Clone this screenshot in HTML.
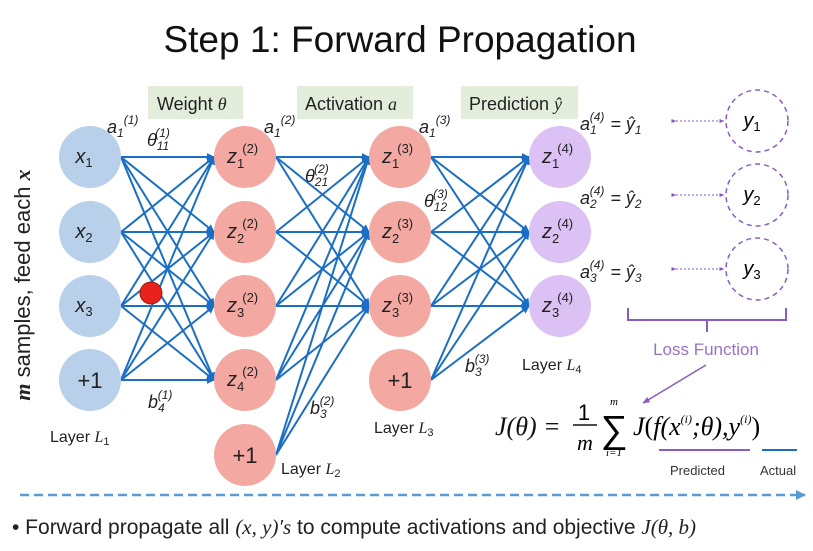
<!DOCTYPE html>
<html><head><meta charset="utf-8"><style>
body{margin:0;background:#fff}
svg{display:block}
text{font-family:"Liberation Sans",sans-serif}
.m{font-family:"Liberation Serif",serif;font-style:italic}
</style></head><body>
<svg id="s" width="813" height="551" viewBox="0 0 813 551">
<defs>
<marker id="ar" viewBox="0 0 10 10" refX="9" refY="5" markerWidth="4" markerHeight="4" orient="auto"><path d="M0,0L10,5L0,10z" fill="#1a6fc4"/></marker>
<marker id="pa" viewBox="0 0 10 10" refX="9" refY="5" markerWidth="5" markerHeight="5" orient="auto"><path d="M0,1L10,5L0,9z" fill="#8a5cc0"/></marker>
<marker id="ba" viewBox="0 0 10 10" refX="9" refY="5" markerWidth="4" markerHeight="4" orient="auto"><path d="M0,0L10,5L0,10z" fill="#5b9bd5"/></marker>
</defs>
<text x="400" y="52" font-size="37" text-anchor="middle" fill="#111">Step 1: Forward Propagation</text>
<g id="edges"></g>
<g id="nodes"></g>
<rect x="148" y="86" width="95" height="33" fill="#e2eddb"/>
<text x="157" y="110" font-size="18" fill="#222">Weight <tspan class="m">θ</tspan></text>
<rect x="297" y="86" width="116" height="33" fill="#e2eddb"/>
<text x="305" y="110" font-size="18" fill="#222">Activation <tspan class="m">a</tspan></text>
<rect x="461" y="86" width="117" height="33" fill="#e2eddb"/>
<text x="469" y="110" font-size="18" fill="#222">Prediction <tspan class="m">ŷ</tspan></text>
<g class="m" font-size="18" fill="#222">
<text x="107" y="133">a<tspan font-size="12" dy="4">1</tspan><tspan font-size="12" dy="-13">(1)</tspan></text>
<text x="147" y="146">θ<tspan font-size="12" dy="4">11</tspan><tspan font-size="12" dy="-13" dx="-14">(1)</tspan></text>
<text x="264" y="133">a<tspan font-size="12" dy="4">1</tspan><tspan font-size="12" dy="-13">(2)</tspan></text>
<text x="305" y="182">θ<tspan font-size="12" dy="4">21</tspan><tspan font-size="12" dy="-13" dx="-14">(2)</tspan></text>
<text x="419" y="133">a<tspan font-size="12" dy="4">1</tspan><tspan font-size="12" dy="-13">(3)</tspan></text>
<text x="424" y="207">θ<tspan font-size="12" dy="4">12</tspan><tspan font-size="12" dy="-13" dx="-14">(3)</tspan></text>
<text x="148" y="408">b<tspan font-size="12" dy="4">4</tspan><tspan font-size="12" dy="-13" dx="-7">(1)</tspan></text>
<text x="310" y="414">b<tspan font-size="12" dy="4">3</tspan><tspan font-size="12" dy="-13" dx="-7">(2)</tspan></text>
<text x="465" y="372">b<tspan font-size="12" dy="4">3</tspan><tspan font-size="12" dy="-13" dx="-7">(3)</tspan></text>
<text x="580" y="130">a<tspan font-size="12" dy="4">1</tspan><tspan font-size="12" dy="-13" dx="-7">(4)</tspan><tspan dy="9" dx="6">= ŷ</tspan><tspan font-size="12" dy="4">1</tspan></text>
<text x="580" y="204">a<tspan font-size="12" dy="4">2</tspan><tspan font-size="12" dy="-13" dx="-7">(4)</tspan><tspan dy="9" dx="6">= ŷ</tspan><tspan font-size="12" dy="4">2</tspan></text>
<text x="580" y="278">a<tspan font-size="12" dy="4">3</tspan><tspan font-size="12" dy="-13" dx="-7">(4)</tspan><tspan dy="9" dx="6">= ŷ</tspan><tspan font-size="12" dy="4">3</tspan></text>
</g>
<g font-size="16" fill="#222">
<text x="50" y="442">Layer <tspan class="m">L</tspan><tspan font-size="11" dy="3">1</tspan></text>
<text x="281" y="474">Layer <tspan class="m">L</tspan><tspan font-size="11" dy="3">2</tspan></text>
<text x="374" y="433">Layer <tspan class="m">L</tspan><tspan font-size="11" dy="3">3</tspan></text>
<text x="522" y="370">Layer <tspan class="m">L</tspan><tspan font-size="11" dy="3">4</tspan></text>
</g>
<text transform="translate(30,285) rotate(-90)" font-size="22" text-anchor="middle" fill="#222"><tspan class="m" font-weight="bold">m</tspan> samples, feed each <tspan class="m" font-weight="bold">x</tspan></text>
<g id="targets"></g>
<path d="M628,308V320H707V332M707,320H786V308" fill="none" stroke="#8a5cc0" stroke-width="2"/>
<text x="706" y="355" font-size="17" fill="#9a70cc" text-anchor="middle">Loss Function</text>
<line x1="706" y1="365" x2="643" y2="403" stroke="#8a5cc0" stroke-width="1.5" marker-end="url(#pa)"/>
<text x="495" y="435" class="m" font-size="26" fill="#111">J(θ) =</text>
<text x="584" y="420" font-family="Liberation Serif" font-size="22" text-anchor="middle">1</text>
<line x1="573" y1="425" x2="597" y2="425" stroke="#111" stroke-width="1.5"/>
<text x="585" y="450" class="m" font-size="22" text-anchor="middle">m</text>
<text x="614" y="442" font-family="Liberation Serif" font-size="38" text-anchor="middle">∑</text>
<text x="614" y="405" class="m" font-size="11" text-anchor="middle">m</text>
<text x="614" y="456" class="m" font-size="11" text-anchor="middle">i=1</text>
<text x="633" y="435" class="m" font-size="26">J<tspan font-style="normal">(</tspan>f(x<tspan font-size="12" dy="-12">(i)</tspan><tspan dy="12">;θ),y</tspan><tspan font-size="12" dy="-12">(i)</tspan><tspan dy="12" font-style="normal">)</tspan></text>
<line x1="659" y1="450" x2="750" y2="450" stroke="#8a5cc0" stroke-width="2"/>
<line x1="762" y1="450" x2="797" y2="450" stroke="#1a6fc4" stroke-width="2"/>
<text x="670" y="475" font-size="13" fill="#333">Predicted</text>
<text x="760" y="475" font-size="13" fill="#333">Actual</text>
<line x1="20" y1="495" x2="805" y2="495" stroke="#5b9bd5" stroke-width="2.5" stroke-dasharray="9,5" marker-end="url(#ba)"/>
<text x="12" y="534" font-size="21" fill="#222">• Forward propagate all <tspan class="m">(x, y)′s</tspan> to compute activations and objective <tspan class="m">J(θ, b)</tspan></text>
<circle cx="151" cy="293" r="11" fill="#e8231c" stroke="#9a1a10" stroke-width="1"/>
</svg>
<script>
const layerX=[90,245,400,560];
const layerY=[[157,232,306,380],[157,232,306,380,455],[157,232,306,380],[157,232,306]];
const biasLast=[true,true,true,false];
const layerFill=["#b9d0ea","#f4a8a2","#f4a8a2","#dcc1f5"];
const layerVar=["x","z","z","z"];
const layerSup=["","(2)","(3)","(4)"];
const targetY=[121,195,269];
const targetLabels=["1","2","3"];
const R=31,NS="http://www.w3.org/2000/svg";
const E=document.getElementById('edges'),N=document.getElementById('nodes'),T=document.getElementById('targets');
function mk(t,a,p){const e=document.createElementNS(NS,t);for(const k in a)e.setAttribute(k,a[k]);p.appendChild(e);return e;}
for(let l=0;l<3;l++){
  const tgt=layerY[l+1].length-(biasLast[l+1]?1:0);
  layerY[l].forEach(y1=>{for(let j=0;j<tgt;j++){
    const e=mk('line',{x1:layerX[l]+R,y1:y1,x2:layerX[l+1]-R,y2:layerY[l+1][j],stroke:'#1a6fc4','stroke-width':2,'marker-end':'url(#ar)'},E);
    
    
  }});
}
layerY.forEach((ys,l)=>ys.forEach((y,i)=>{
  const c=mk('circle',{cx:layerX[l],cy:y,r:R,fill:layerFill[l]},N);
  
  
  const bias=biasLast[l]&&i===ys.length-1;
  let t;
  if(bias){
    t=mk('text',{x:layerX[l],y:y+8,'text-anchor':'middle','font-size':22,fill:'#222'},N);
    t.textContent='+1';
  } else if(l===0){
    t=mk('text',{x:layerX[l]-6,y:y+6,'font-size':20,fill:'#222','font-family':'Liberation Serif,serif','font-style':'italic','text-anchor':'middle'},N);
    t.textContent='x';
    const s=mk('tspan',{'font-size':13,dy:4,'font-style':'normal'},t);s.textContent=String(i+1);
  } else {
    t=mk('text',{x:layerX[l]-18,y:y+6,'font-size':20,fill:'#222','font-family':'Liberation Serif,serif','font-style':'italic'},N);
    t.textContent=layerVar[l];
    const s=mk('tspan',{'font-size':13,dy:5,'font-style':'normal'},t);s.textContent=String(i+1);
    const p=mk('tspan',{'font-size':13,dy:-15,dx:-2,'font-style':'normal'},t);p.textContent=layerSup[l];
  }
  
  
}));
targetY.forEach((y,i)=>{
  const c=mk('circle',{cx:757,cy:y,r:31,fill:'none',stroke:'#8a5cc0','stroke-width':1.5,'stroke-dasharray':'5,4'},T);
  
  
  const t=mk('text',{x:752,y:y+6,'text-anchor':'middle','font-size':20,'font-family':'Liberation Serif,serif','font-style':'italic'},T);
  t.textContent='y';
  const s=mk('tspan',{'font-size':13,dy:4,'font-style':'normal'},t);s.textContent=targetLabels[i];
  
  
  const a=mk('line',{x1:676,y1:y,x2:724,y2:y,stroke:'#8a5cc0','stroke-width':1,'stroke-dasharray':'2,2','marker-end':'url(#pa)','marker-start':'url(#pa)'},T);
  
  
});
</script>
</body></html>
